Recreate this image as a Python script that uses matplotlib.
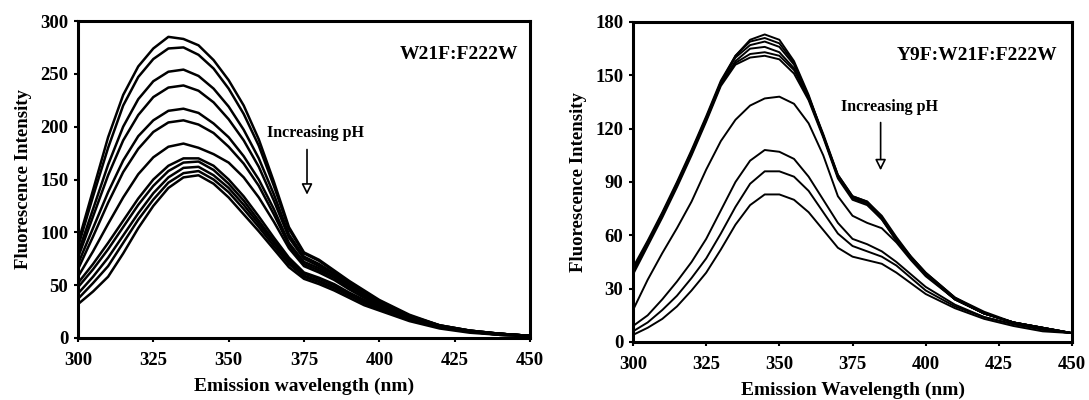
import matplotlib.pyplot as plt
import numpy as np

# Emission wavelengths (nm) common to both panels
wl = [300, 305, 310, 315, 320, 325, 330, 335, 340, 345, 350, 355, 360, 365,
      370, 375, 380, 385, 390, 395, 400, 410, 420, 430, 440, 450]

# W21F:F222W spectra, one row per pH
w21f_spectra = [
    [90, 140, 190, 230, 257, 274, 285, 283, 277, 263, 244, 220, 188, 148, 105, 81, 74, 64, 54, 45, 36, 22, 12, 7, 4, 2],
    [86, 134, 180, 220, 247, 264, 274, 275, 268, 255, 236, 212, 182, 144, 103, 80, 73, 63, 53, 44, 35, 21, 12, 7, 4, 2],
    [80, 122, 164, 200, 226, 243, 252, 254, 248, 236, 219, 197, 170, 136, 98, 77, 70, 61, 51, 42, 34, 21, 12, 7, 4, 2],
    [76, 115, 154, 187, 211, 228, 237, 239, 234, 223, 207, 187, 162, 130, 95, 75, 68, 60, 50, 41, 33, 20, 11, 7, 4, 2],
    [70, 104, 138, 168, 191, 206, 215, 217, 213, 203, 190, 172, 150, 122, 90, 72, 66, 58, 49, 40, 33, 20, 11, 6, 4, 2],
    [65, 96, 128, 157, 179, 195, 204, 206, 202, 194, 181, 165, 144, 117, 88, 70, 64, 57, 48, 40, 32, 20, 11, 6, 4, 2],
    [58, 82, 108, 133, 155, 171, 181, 184, 180, 174, 166, 152, 133, 110, 85, 68, 62, 55, 46, 38, 31, 19, 11, 6, 4, 2],
    [52, 70, 90, 111, 132, 150, 163, 170, 170, 163, 150, 134, 115, 95, 76, 62, 57, 51, 43, 36, 30, 18, 11, 6, 4, 2],
    [48, 65, 84, 105, 126, 144, 158, 166, 167, 159, 146, 130, 111, 92, 74, 61, 56, 50, 42, 35, 29, 18, 10, 6, 3, 2],
    [42, 58, 76, 97, 118, 137, 152, 161, 162, 154, 142, 126, 108, 90, 72, 59, 54, 48, 41, 34, 28, 17, 10, 6, 3, 2],
    [37, 52, 68, 90, 112, 131, 147, 156, 158, 150, 138, 122, 105, 87, 70, 58, 53, 47, 40, 33, 27, 17, 10, 6, 3, 2],
    [32, 44, 58, 80, 104, 125, 142, 152, 154, 146, 133, 117, 101, 84, 67, 56, 51, 45, 38, 31, 26, 16, 9, 5, 3, 2],
]

# Y9F:W21F:F222W spectra
y9f_spectra = [
    [40, 56, 72, 89, 107, 126, 146, 161, 170, 173, 170, 158, 139, 116, 93, 81, 78, 69, 57, 47, 38, 24, 16, 11, 8, 5],
    [42, 57, 73, 90, 108, 127, 147, 161, 169, 171, 168, 157, 138, 116, 93, 81, 78, 70, 58, 47, 38, 24, 16, 11, 8, 5],
    [41, 56, 72, 89, 107, 126, 146, 160, 167, 169, 166, 156, 138, 117, 94, 82, 79, 70, 58, 48, 39, 25, 16, 11, 8, 5],
    [39, 55, 71, 88, 106, 125, 145, 158, 165, 166, 163, 154, 137, 116, 93, 81, 78, 70, 58, 47, 38, 24, 16, 11, 8, 5],
    [40, 56, 72, 89, 107, 125, 145, 157, 162, 163, 161, 153, 137, 116, 94, 82, 79, 71, 59, 48, 39, 25, 17, 11, 8, 5],
    [38, 54, 70, 87, 105, 124, 144, 156, 160, 161, 159, 151, 136, 115, 92, 80, 77, 69, 57, 47, 38, 24, 16, 11, 8, 5],
    [18, 35, 50, 64, 79, 97, 113, 125, 133, 137, 138, 134, 123, 105, 82, 71, 67, 64, 56, 46, 37, 24, 16, 11, 7, 5],
    [9, 15, 24, 34, 45, 58, 74, 90, 102, 108, 107, 103, 93, 80, 67, 58, 55, 51, 45, 38, 31, 21, 14, 10, 7, 5],
    [6, 11, 18, 26, 36, 47, 61, 76, 89, 96, 96, 93, 85, 73, 61, 54, 51, 48, 43, 36, 29, 20, 14, 10, 7, 5],
    [4, 8, 13, 20, 29, 39, 52, 66, 77, 83, 83, 80, 73, 63, 53, 48, 46, 44, 39, 33, 27, 19, 13, 9, 6, 5],
]

xticks = [300, 325, 350, 375, 400, 425, 450]
w21f_yticks = [0, 50, 100, 150, 200, 250, 300]
y9f_yticks = [0, 30, 60, 90, 120, 150, 180]

plt.rcParams['font.family'] = ['Liberation Serif', 'DejaVu Serif']
plt.rcParams['font.weight'] = 'bold'

fig = plt.figure(figsize=(10.89, 4.0), dpi=100)
ax1 = fig.add_axes([0.0716, 0.155, 0.4151, 0.7925])
ax2 = fig.add_axes([0.5813, 0.145, 0.4031, 0.80])


def style_axes(ax, yticks, xlabel):
    ax.set_xlim(300, 450)
    ax.set_ylim(yticks[0], yticks[-1])
    ax.set_xticks(xticks)
    ax.set_yticks(yticks)
    for s in ax.spines.values():
        s.set_linewidth(2.2)
    ax.tick_params(direction='out', length=3, width=1.5, labelsize=13.5)
    ax.tick_params(axis='x', pad=7)
    ax.tick_params(axis='y', pad=4)
    for lab in ax.get_xticklabels() + ax.get_yticklabels():
        lab.set_fontweight('bold')
    ax.set_xlabel(xlabel, fontsize=14, fontweight='bold', labelpad=6)
    ax.set_ylabel('Fluorescence Intensity', fontsize=13.5, fontweight='bold', labelpad=6)


for row in w21f_spectra:
    ax1.plot(wl, row, color='black', lw=1.8, solid_joinstyle='round')
style_axes(ax1, w21f_yticks, 'Emission wavelength (nm)')
ax1.text(446, 268, 'W21F:F222W', ha='right', va='center', fontsize=14, fontweight='bold')
ax1.text(378.7, 194, 'Increasing pH', ha='center', va='center', fontsize=11.5, fontweight='bold')
ax1.annotate('', xy=(376, 133), xytext=(376, 181),
             arrowprops=dict(arrowstyle='-|>', fc='white', ec='black', lw=1.2, mutation_scale=16))

for row in y9f_spectra:
    ax2.plot(wl, row, color='black', lw=1.4, solid_joinstyle='round')
style_axes(ax2, y9f_yticks, 'Emission Wavelength (nm)')
ax2.text(445, 161, 'Y9F:W21F:F222W', ha='right', va='center', fontsize=14, fontweight='bold')
ax2.text(387.5, 132, 'Increasing pH', ha='center', va='center', fontsize=11.5, fontweight='bold')
ax2.annotate('', xy=(384.6, 95), xytext=(384.6, 125),
             arrowprops=dict(arrowstyle='-|>', fc='white', ec='black', lw=1.2, mutation_scale=16))

fig.savefig('out.png', dpi=100)
plt.close(fig)
